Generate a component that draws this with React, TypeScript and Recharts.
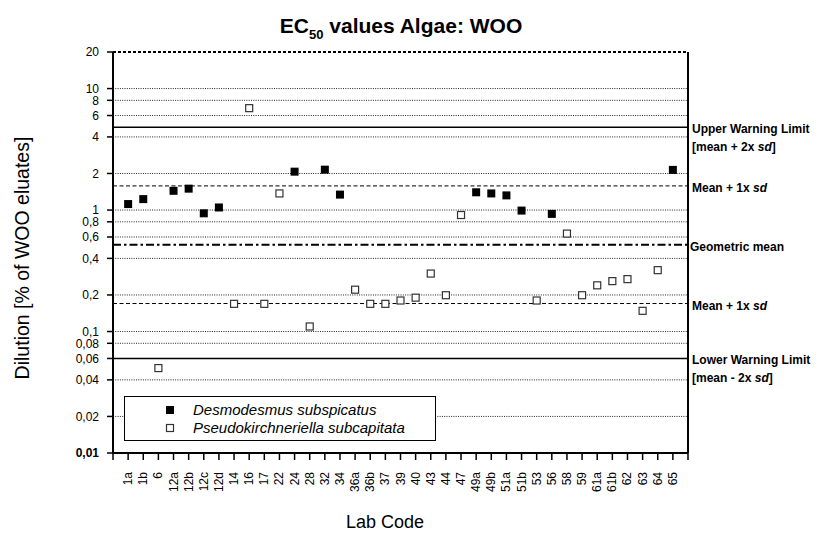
import React from 'react';
import { ScatterChart, Scatter, XAxis, YAxis, ReferenceLine, Legend } from 'recharts';

const categories = ['1a','1b','6','12a','12b','12c','12d','14','16','17','22','24','28','32','34','36a','36b','37','39','40','43','44','47','49a','49b','51a','51b','53','56','58','59','61a','61b','62','63','64','65'];

const desmodesmus: (number | null)[] = [1.12, 1.23, null, 1.44, 1.5, 0.94, 1.05, null, null, null, null, 2.07, null, 2.15, 1.34, null, null, null, null, null, null, null, null, 1.4, 1.37, 1.32, 0.99, null, 0.93, null, null, null, null, null, null, null, 2.14];

const pseudokirchneriella: (number | null)[] = [null, null, 0.05, null, null, null, null, 0.169, 6.9, 0.169, 1.37, null, 0.11, null, null, 0.221, 0.169, 0.169, 0.18, 0.19, 0.3, 0.199, 0.91, null, null, null, null, 0.18, null, 0.64, 0.199, 0.24, 0.26, 0.27, 0.148, 0.32, null];

const seriesNames = ['Desmodesmus subspicatus', 'Pseudokirchneriella subcapitata'];

const yTicks = [0.01, 0.02, 0.04, 0.06, 0.08, 0.1, 0.2, 0.4, 0.6, 0.8, 1, 2, 4, 6, 8, 10, 20];
const gridValues = [10, 8, 6, 4, 2, 1, 0.8, 0.6, 0.4, 0.2, 0.1, 0.08, 0.06, 0.04, 0.02];

const refValues = [4.8, 1.58, 0.518, 0.17, 0.06];
const refLabels: string[][] = [
  ['Upper Warning Limit', '[mean + 2x |sd|]'],
  ['Mean + 1x |sd|'],
  ['Geometric mean'],
  ['Mean + 1x |sd|'],
  ['Lower Warning Limit', '[mean - 2x |sd|]'],
];
const refStyles = [
  { dash: undefined, width: 1.5 },
  { dash: '4 2.5', width: 1 },
  { dash: '8 3 2.5 3', width: 1.8 },
  { dash: '4 2.5', width: 1 },
  { dash: undefined, width: 1.5 },
];

const xTicks = Array.from({ length: 39 }, (_, i) => i);

const FONT = '"Liberation Sans", Arial, sans-serif';

const toPoints = (vals: (number | null)[]) =>
  vals
    .map((v, i) => ({ x: i + 1, y: v }))
    .filter((p) => p.y !== null) as { x: number; y: number }[];

const desmoData = toPoints(desmodesmus);
const pseudoData = toPoints(pseudokirchneriella);

const fmt = (v: number) => String(v).replace('.', ',');

const XTick = (props: any) => {
  const { x, y, payload } = props;
  const label = categories[payload.value - 1] ?? '';
  const tx = x + 4;
  const ty = y + 10;
  return (
    <text x={tx} y={ty} transform={`rotate(-90 ${tx} ${ty})`} textAnchor="end" fontSize={12} fontFamily={FONT} fill="#000">
      {label}
    </text>
  );
};

const YTick = (props: any) => {
  const { x, y, payload } = props;
  return (
    <text x={x} y={y} dy={4.3} textAnchor="end" fontSize={12} fontFamily={FONT} fill="#000" fontWeight={payload.value === 0.01 ? 'bold' : 'normal'}>
      {fmt(payload.value)}
    </text>
  );
};

const renderLine = (line: string) => {
  const parts = line.split('|');
  return parts.map((p, i) => (
    <tspan key={i} fontStyle={i % 2 === 1 ? 'italic' : 'normal'}>{p}</tspan>
  ));
};

const makeRefLabel = (lines: string[], dx: number) => (props: any) => {
  const vb = props.viewBox || {};
  const x = vb.x + vb.width + dx;
  const y = vb.y;
  return (
    <text fontFamily={FONT} fontWeight="bold" fontSize={12} fill="#000">
      {lines.map((l, i) => (
        <tspan key={i} x={x} y={y + 6 + i * 18}>{renderLine(l)}</tspan>
      ))}
    </text>
  );
};

const BlackSquare = (props: any) => {
  const { cx, cy } = props;
  return <rect x={cx - 4} y={cy - 4} width={8} height={8} fill="#000" />;
};
const OpenSquare = (props: any) => {
  const { cx, cy } = props;
  return <rect x={cx - 3.5} y={cy - 3.5} width={7} height={7} fill="#fff" stroke="#333" strokeWidth={1.2} />;
};

const LegendBox = () => (
  <div style={{ width: 312, height: 45, border: '1px solid #000', background: '#fff', boxSizing: 'border-box', position: 'relative', fontFamily: FONT, fontStyle: 'italic', fontSize: 15, color: '#000' }}>
    {seriesNames.map((name, i) => (
      <div key={name} style={{ position: 'absolute', left: 0, top: 4 + i * 18, height: 18, width: 310 }}>
        <svg width={12} height={12} style={{ position: 'absolute', left: 39, top: 3 }}>
          {i === 0 ? (
            <rect x={2} y={2} width={8} height={8} fill="#000" />
          ) : (
            <rect x={2.5} y={2.5} width={7} height={7} fill="#fff" stroke="#333" strokeWidth={1.2} />
          )}
        </svg>
        <span style={{ position: 'absolute', left: 68, top: 0, lineHeight: '18px', whiteSpace: 'nowrap' }}>{name}</span>
      </div>
    ))}
  </div>
);

export default function App() {
  return (
    <div style={{ position: 'relative', width: 811, height: 526 }}>
      <ScatterChart width={811} height={526} margin={{ top: 44, right: 131, bottom: 31, left: 45 }} style={{ overflow: 'visible' }}>
        <XAxis
          type="number"
          dataKey="x"
          domain={[0, 38]}
          ticks={xTicks}
          interval={0}
          height={50}
          tick={<XTick />}
          tickSize={7}
          axisLine={{ stroke: '#000', strokeWidth: 2 }}
          tickLine={{ stroke: '#000', strokeWidth: 1.5 }}
          allowDataOverflow
        />
        <YAxis
          type="number"
          dataKey="y"
          scale="log"
          domain={[0.01, 20]}
          ticks={yTicks}
          interval={0}
          width={60}
          tick={<YTick />}
          tickSize={6}
          tickMargin={8}
          axisLine={{ stroke: '#000', strokeWidth: 2 }}
          tickLine={{ stroke: '#000', strokeWidth: 1.5 }}
          allowDataOverflow
        />
        {gridValues.map((v) => (
          <ReferenceLine key={'g' + v} y={v} stroke="#222" strokeWidth={1} strokeDasharray="1 1.3" />
        ))}
        <ReferenceLine y={20} stroke="#000" strokeWidth={2} strokeDasharray="3 2" />
        <ReferenceLine x={38} stroke="#000" strokeWidth={2} />
        {refValues.map((v, i) => (
          <ReferenceLine
            key={'r' + i}
            y={v}
            stroke="#000"
            strokeWidth={refStyles[i].width}
            strokeDasharray={refStyles[i].dash}
            label={makeRefLabel(refLabels[i], i === 2 ? 2 : 4)}
          />
        ))}
        <Scatter name={seriesNames[0]} data={desmoData} shape={<BlackSquare />} isAnimationActive={false} />
        <Scatter name={seriesNames[1]} data={pseudoData} shape={<OpenSquare />} isAnimationActive={false} />
        <Legend
          layout="horizontal"
          verticalAlign="middle"
          align="center"
          content={<LegendBox />}
          wrapperStyle={{ position: 'absolute', left: 116, top: 388, width: 312, height: 45 }}
        />
      </ScatterChart>
      <svg width={811} height={526} style={{ position: 'absolute', left: 0, top: 0, pointerEvents: 'none' }}>
        <text x={393} y={25} textAnchor="middle" fontFamily={FONT} fontWeight="bold" fontSize={21} fill="#000">
          EC<tspan fontSize={13} dy={6}>50</tspan><tspan dy={-6}> values Algae: WOO</tspan>
        </text>
        <text x={21} y={250} transform="rotate(-90 21 250)" textAnchor="middle" fontFamily={FONT} fontSize={19.5} fill="#000">
          Dilution [% of WOO eluates]
        </text>
        <text x={377} y={520} textAnchor="middle" fontFamily={FONT} fontSize={18} fill="#000">
          Lab Code
        </text>
      </svg>
    </div>
  );
}
